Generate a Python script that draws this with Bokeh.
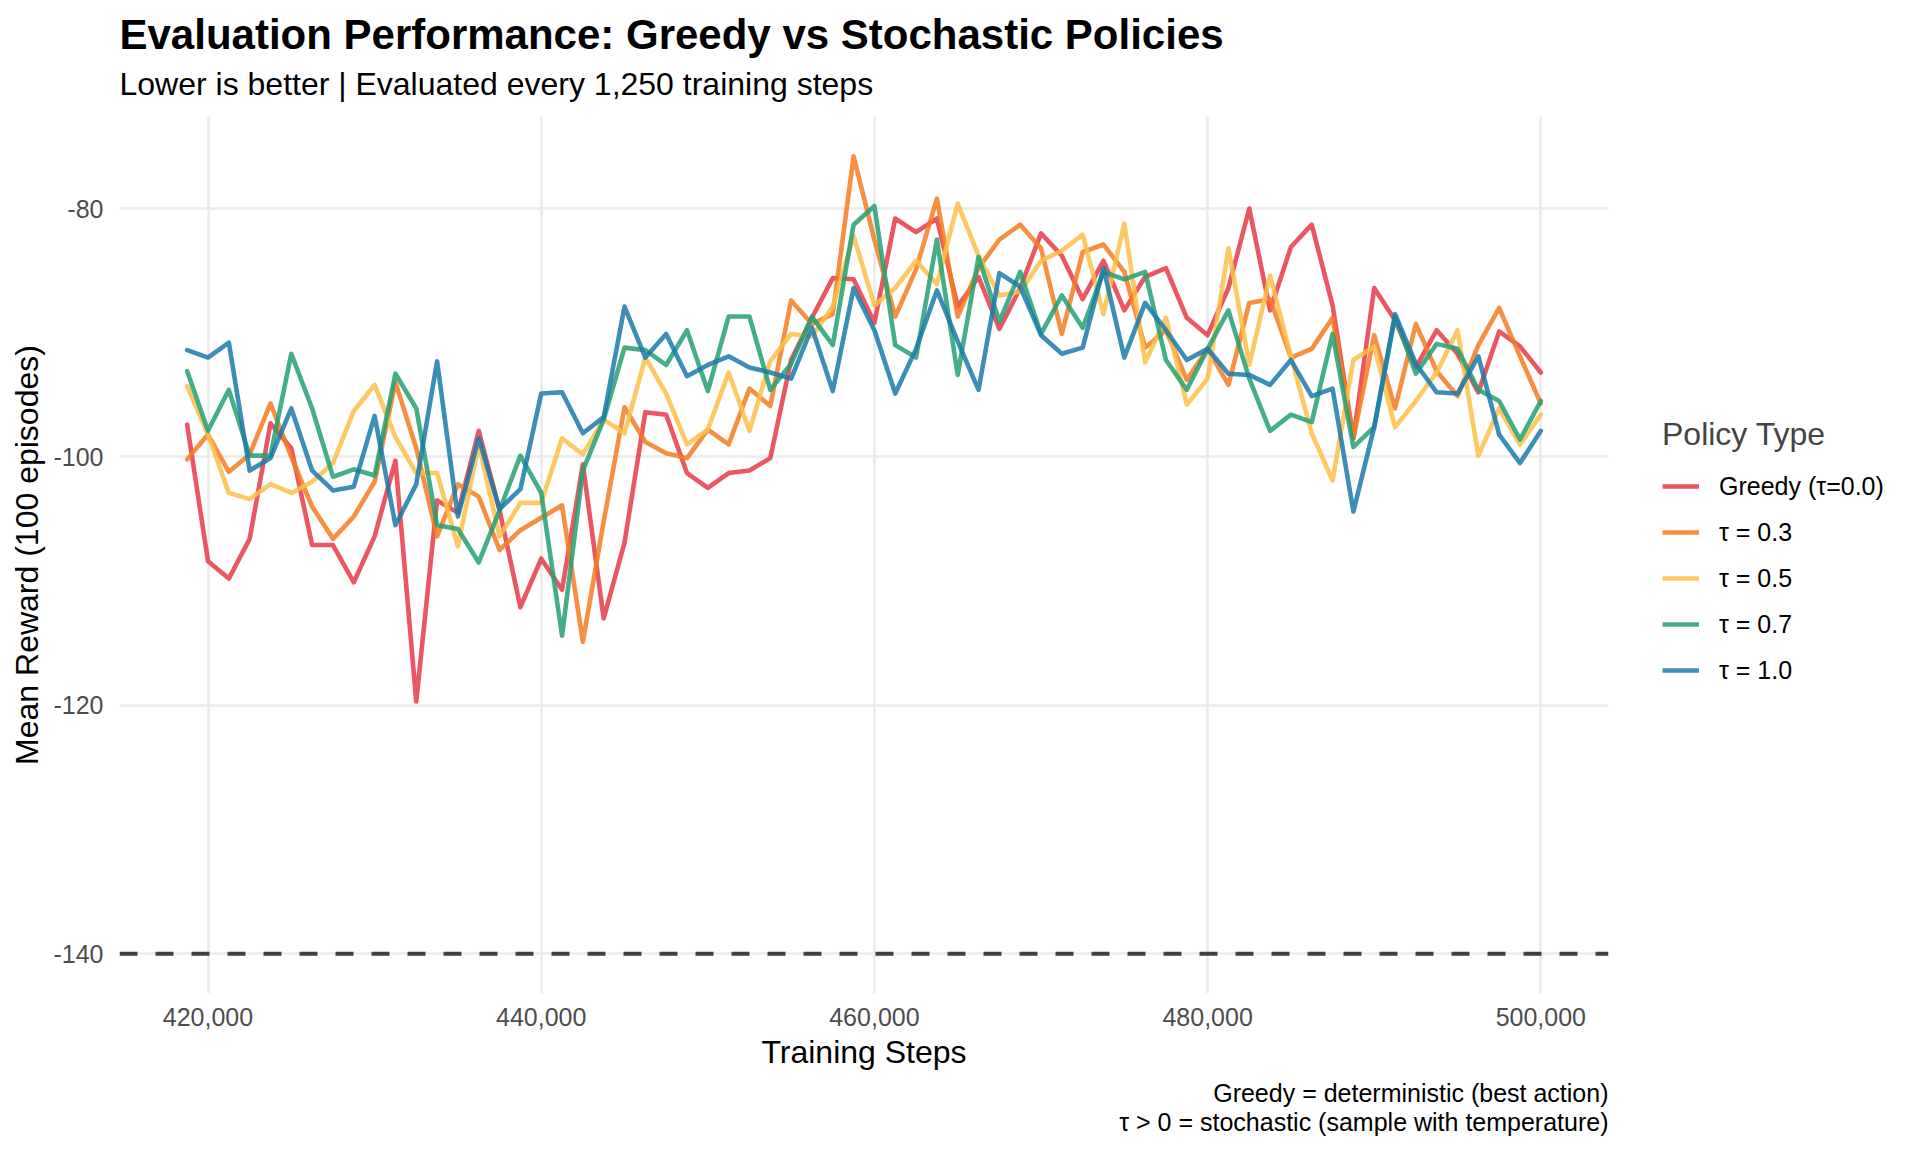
from bokeh.plotting import figure
from bokeh.models import Range1d, FixedTicker, Span, Legend, LegendItem, Title
from bokeh.layouts import row
from bokeh.embed import file_html
from bokeh.resources import INLINE

# ---------------- data ----------------
steps = list(range(418750, 500001, 1250))  # evaluated every 1,250 training steps

greedy = [-97.4, -108.4, -109.8, -106.6, -97.3, -99.3, -107.1, -107.1, -110.1, -106.4, -100.3,
          -119.7, -103.5, -104.5, -97.9, -104.3, -112.1, -108.2, -110.7, -100.6, -113.0, -106.9,
          -96.4, -96.6, -101.3, -102.5, -101.3, -101.1, -100.1, -92.2, -88.8, -85.6, -85.7,
          -89.2, -80.8, -81.9, -80.8, -87.9, -85.5, -89.7, -86.4, -82.0, -83.8, -87.3,
          -84.2, -88.2, -85.5, -84.8, -88.8, -90.2, -86.4, -80.0, -88.2, -83.1, -81.3,
          -87.8, -98.5, -86.4, -89.0, -92.8, -89.8, -91.7, -94.8, -89.9, -91.1, -93.2]

tau03 = [-100.2, -98.2, -101.2, -99.8, -95.7, -100.0, -104.0, -106.6, -104.8, -102.0, -94.0,
         -99.3, -106.4, -102.2, -103.2, -107.5, -105.9, -104.9, -103.9, -114.9, -105.2, -96.0,
         -98.8, -99.7, -100.1, -97.8, -99.0, -94.5, -95.9, -87.4, -89.3, -88.5, -75.8,
         -82.5, -88.7, -84.9, -79.2, -88.7, -84.8, -82.5, -81.3, -83.2, -90.1, -83.5,
         -82.9, -85.1, -91.2, -89.8, -93.8, -91.3, -94.2, -87.6, -87.3, -92.0, -91.3,
         -88.8, -98.5, -90.2, -96.1, -89.3, -93.1, -95.1, -91.0, -88.0, -91.9, -95.7]

tau05 = [-94.3, -98.2, -102.9, -103.4, -102.2, -102.9, -102.0, -100.5, -96.3, -94.2, -98.4,
         -101.3, -101.3, -107.2, -99.0, -106.4, -103.7, -103.7, -98.5, -99.8, -97.0, -98.1,
         -92.0, -94.9, -99.0, -97.8, -93.2, -97.9, -92.3, -90.1, -90.3, -87.9, -82.2,
         -87.8, -86.4, -84.2, -86.1, -79.6, -83.8, -87.0, -86.7, -84.2, -83.4, -82.1,
         -88.5, -81.2, -92.4, -88.8, -95.8, -93.7, -83.2, -92.6, -85.4, -91.9, -98.1,
         -101.9, -92.2, -91.1, -97.6, -95.5, -93.2, -89.8, -99.9, -96.1, -99.0, -96.6]

tau07 = [-93.1, -97.9, -94.6, -99.9, -99.9, -91.7, -96.1, -101.6, -101.0, -101.5, -93.3,
         -96.1, -105.5, -105.8, -108.5, -104.3, -99.9, -102.9, -114.4, -101.1, -97.0, -91.2,
         -91.4, -92.6, -89.8, -94.7, -88.7, -88.7, -94.6, -92.5, -88.7, -91.0, -81.3,
         -79.8, -91.0, -92.0, -82.5, -93.4, -83.9, -89.1, -85.1, -90.1, -87.0, -89.6,
         -85.1, -85.7, -85.1, -92.2, -94.6, -91.3, -88.2, -93.7, -97.9, -96.6, -97.2,
         -90.1, -99.2, -97.6, -88.7, -93.3, -90.9, -91.3, -94.6, -95.5, -98.6, -95.5]

tau10 = [-91.4, -92.0, -90.8, -101.1, -100.1, -96.1, -101.1, -102.7, -102.4, -96.7, -105.5,
         -102.2, -92.3, -104.8, -98.5, -104.2, -102.6, -94.9, -94.8, -98.1, -96.8, -87.9,
         -92.0, -90.1, -93.5, -92.6, -91.9, -92.8, -93.2, -93.7, -89.6, -94.7, -86.4,
         -89.8, -94.9, -91.3, -86.6, -90.7, -94.6, -85.2, -86.3, -90.2, -91.7, -91.2,
         -84.8, -92.0, -87.6, -89.8, -92.2, -91.3, -93.3, -93.4, -94.2, -92.2, -95.1,
         -94.5, -104.4, -97.6, -88.5, -92.5, -94.8, -94.9, -91.9, -98.2, -100.5, -97.9]

series_labels = ["Greedy (\u03c4=0.0)", "\u03c4 = 0.3", "\u03c4 = 0.5", "\u03c4 = 0.7", "\u03c4 = 1.0"]
series_values = [greedy, tau03, tau05, tau07, tau10]
series_colors = ["#E63946", "#F47B20", "#FCBF49", "#25A073", "#1B7AAA"]

baseline_value = -140
x_ticks = [420000, 440000, 460000, 480000, 500000]
x_tick_labels = ["420,000", "440,000", "460,000", "480,000", "500,000"]
y_ticks = [-140, -120, -100, -80]
y_tick_labels = ["-140", "-120", "-100", "-80"]

title_text = "Evaluation Performance: Greedy vs Stochastic Policies"
subtitle_text = "Lower is better | Evaluated every 1,250 training steps"
caption_lines = ["Greedy = deterministic (best action)",
                 "\u03c4 > 0 = stochastic (sample with temperature)"]
legend_title = "Policy Type"

FONT = "Liberation Sans"
LINE_W = 4.6
LINE_A = 0.85
H = 1146
FRAME_TOP, FRAME_H = 116, 877

# ---------------- ranges (ggplot-like 5% expansion) ----------------
xmin, xmax = min(steps), max(steps)
xpad = (xmax - xmin) * 0.05
all_y = [v for s in series_values for v in s] + [baseline_value]
ymin, ymax = min(all_y), max(all_y)
ypad = (ymax - ymin) * 0.05
x0, x1 = xmin - xpad, xmax + xpad
y0, y1 = ymin - ypad, ymax + ypad

p = figure(width=1620, height=H,
           x_range=Range1d(x0, x1), y_range=Range1d(y0, y1),
           output_backend="svg", toolbar_location=None,
           min_border_left=119, min_border_right=12,
           min_border_top=FRAME_TOP, min_border_bottom=H - FRAME_TOP - FRAME_H)
p.outline_line_color = None
p.background_fill_color = "white"
p.border_fill_color = "white"

# grid
for g in (p.xgrid, p.ygrid):
    g.grid_line_color = "#EBEBEB"
    g.grid_line_width = 2.6

# axes
p.xaxis.ticker = FixedTicker(ticks=x_ticks)
p.yaxis.ticker = FixedTicker(ticks=y_ticks)
p.xaxis.major_label_overrides = {t: l for t, l in zip(x_ticks, x_tick_labels)}
p.yaxis.major_label_overrides = {t: l for t, l in zip(y_ticks, y_tick_labels)}
for ax in (p.xaxis, p.yaxis):
    ax.axis_line_color = None
    ax.major_tick_line_color = None
    ax.minor_tick_line_color = None
    ax.major_tick_out = 0
    ax.major_tick_in = 0
    ax.major_label_text_font = FONT
    ax.major_label_text_font_size = "25px"
    ax.major_label_text_color = "#4D4D4D"
    ax.axis_label_text_font = FONT
    ax.axis_label_text_font_size = "32px"
    ax.axis_label_text_font_style = "normal"
    ax.axis_label_text_color = "black"
    ax.axis_label_standoff = 5
p.xaxis.major_label_standoff = 14
p.yaxis.major_label_standoff = 16
p.xaxis.axis_label = "Training Steps"
p.yaxis.axis_label = "Mean Reward (100 episodes)"

# baseline dashed line
p.add_layout(Span(location=baseline_value, dimension="width",
                  line_color="#3F3F3F", line_width=4, line_dash="18 18"))

# series
for vals, col in zip(series_values, series_colors):
    p.line(steps, vals, line_color=col, line_width=LINE_W, line_alpha=LINE_A,
           line_join="round", line_cap="round")

# subtitle (closest to frame) then title
p.add_layout(Title(text=subtitle_text, text_font=FONT, text_font_size="32px",
                   text_font_style="normal", text_color="black", align="left",
                   standoff=30), "above")
p.add_layout(Title(text=title_text, text_font=FONT, text_font_size="42px",
                   text_font_style="bold", text_color="black", align="left",
                   standoff=-18), "above")

# caption lines below the x axis
for line, so in zip(caption_lines, (9, -11)):
    p.add_layout(Title(text=line, text_font=FONT, text_font_size="25px",
                       text_font_style="normal", text_color="black", align="right",
                       standoff=so), "below")

# ---------------- legend panel (frame aligned with the main plot) ----------------
pl = figure(width=1904 - 1620, height=H, x_range=Range1d(0, 1), y_range=Range1d(0, 1),
            output_backend="svg", toolbar_location=None,
            x_axis_location=None, y_axis_location=None, min_border=0)
pl.outline_line_color = None
pl.xgrid.visible = False
pl.ygrid.visible = False
pl.background_fill_color = "white"
pl.border_fill_color = "white"
keys = []
for vals, col in zip(series_values, series_colors):
    # same series, outside this panel's ranges: only the legend keys are visible
    keys.append(pl.line(steps, vals, line_color=col, line_width=LINE_W, line_alpha=LINE_A))

legend = Legend(items=[LegendItem(label=l, renderers=[r]) for l, r in zip(series_labels, keys)],
                location=(42, (FRAME_TOP + FRAME_H) - 685),
                title=legend_title, title_text_font=FONT, title_text_font_size="32px",
                title_text_font_style="normal", title_standoff=18,
                label_text_font=FONT, label_text_font_size="25px", label_text_color="black",
                glyph_width=37, glyph_height=30, label_height=30, label_standoff=20,
                spacing=16, padding=0, margin=0,
                border_line_color=None, background_fill_alpha=0)
pl.add_layout(legend)

layout = row(p, pl)
open("out.html", "w").write(file_html(layout, INLINE))
